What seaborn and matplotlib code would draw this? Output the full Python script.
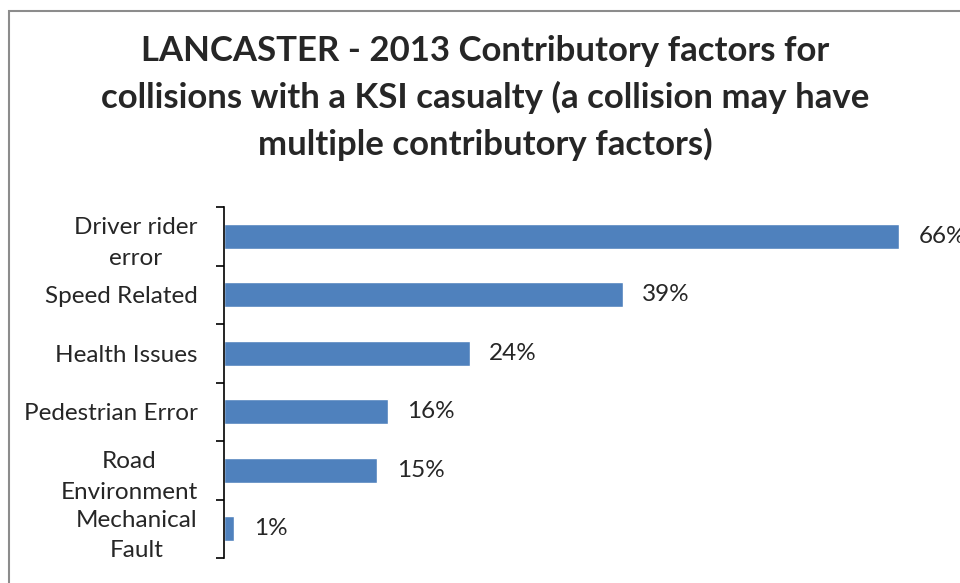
import matplotlib
matplotlib.use("Agg")
import matplotlib.pyplot as plt
from matplotlib.patches import Rectangle
import seaborn as sns
import pandas as pd

factors = ["Driver rider\nerror", "Speed Related", "Health Issues",
           "Pedestrian Error", "Road\nEnvironment", "Mechanical\nFault"]
percent = [66, 39, 24, 16, 15, 1]
title = ("LANCASTER - 2013 Contributory factors for\n"
         "collisions with a KSI casualty (a collision may have\n"
         "multiple contributory factors)")

df = pd.DataFrame({"factor": factors, "percent": percent})

sns.set_style("white")
plt.rcParams["font.family"] = ["Lato", "DejaVu Sans"]

fig = plt.figure(figsize=(9.6, 5.83), dpi=100)
W, H = 960, 583
# chart frame (runs off the right and bottom edges)
fig.patches.append(Rectangle((9 / W, -0.05), 1.2, 1 - 11 / H + 0.05,
                             transform=fig.transFigure, fill=False,
                             edgecolor="#8c8c8c", linewidth=1.5))

ax = fig.add_axes([224 / W, 25 / H, 712 / W, 351 / H])
sns.barplot(data=df, x="percent", y="factor", color="#4F81BD", width=0.42,
            saturation=1, ax=ax)
ax.set_xlim(0, 69.6)
ax.set_ylim(len(factors) - 0.5, -0.5)

# data labels (the 66% one runs off the right edge, as in the original)
for i, v in enumerate(percent):
    ax.text(v + 1.9, i, f"{v}%", va="center", ha="left", fontsize=17.5)

sns.despine(ax=ax, top=True, right=True, bottom=True)
ax.spines["left"].set_color("black")
ax.spines["left"].set_linewidth(1.2)
ax.set_xticks([])
ax.set_xlabel("")
ax.set_ylabel("")
ax.set_yticks([i - 0.5 for i in range(len(factors) + 1)], minor=True)
ax.tick_params(axis="y", which="minor", length=6, width=1.2, color="black", left=True)
ax.tick_params(axis="y", which="major", length=0, pad=19, labelsize=17.5)
for lab in ax.get_yticklabels():
    lab.set_multialignment("center")
    lab.set_linespacing(1.55)

fig.text(485 / W, 1 - 98 / H, title, ha="center", va="center",
         fontsize=25, fontweight="bold", linespacing=1.5)

fig.savefig("out.png", dpi=100)
